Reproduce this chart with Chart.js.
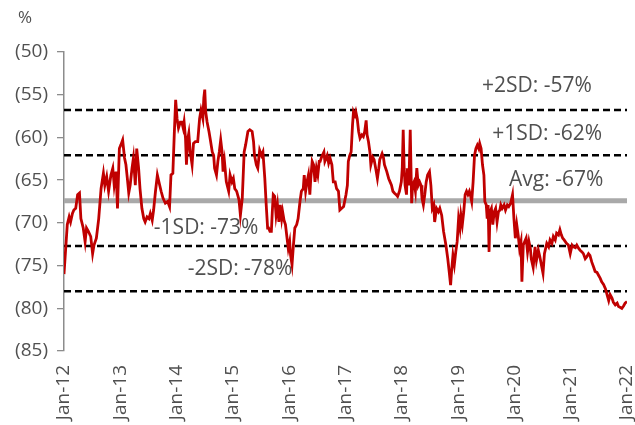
<!DOCTYPE html>
<html>
<head>
<meta charset="utf-8">
<script src="https://cdn.jsdelivr.net/npm/chart.js@4/dist/chart.umd.min.js"></script>
<style>
  html, body { margin: 0; padding: 0; background: #fff; }
  #wrap { position: relative; width: 635px; height: 425px; }
</style>
</head>
<body>
<div id="wrap"><canvas id="c" width="635" height="425"></canvas></div>
<script>
// X-axis tick labels, one per January
const xTickLabels = ['Jan-12','Jan-13','Jan-14','Jan-15','Jan-16','Jan-17','Jan-18','Jan-19','Jan-20','Jan-21','Jan-22'];

// Y-axis tick values (%)
const yTickValues = [-85, -80, -75, -70, -65, -60, -55, -50];

// Months elapsed since Jan-2012
const monthIndex = [
  0.0, 0.7, 1.1, 1.4, 1.8, 2.1, 2.5, 2.9, 3.3, 3.6, 4.1, 4.5, 4.8, 5.2, 5.7, 6.1, 6.4, 6.9, 7.4, 7.9,
  8.4, 8.7, 9.1, 9.5, 10.0, 10.4, 10.7, 11.1, 11.4, 11.8, 12.1, 12.5, 12.9, 13.2, 13.5, 13.8, 14.1, 14.5, 14.8, 15.2,
  15.5, 15.9, 16.2, 16.6, 17.0, 17.3, 17.7, 18.1, 18.4, 18.8, 19.1, 19.5, 19.9, 20.4, 20.7, 21.1, 21.6, 22.1, 22.5, 22.8,
  23.2, 23.5, 23.8, 24.1, 24.4, 24.8, 25.1, 25.4, 25.6, 25.9, 26.1, 26.4, 26.6, 26.9, 27.3, 27.6, 28.0, 28.5, 28.9, 29.2,
  29.6, 29.8, 30.0, 30.2, 30.5, 30.9, 31.2, 31.6, 31.9, 32.1, 32.5, 32.8, 33.1, 33.4, 33.7, 33.9, 34.2, 34.6, 35.1, 35.4,
  35.8, 36.1, 36.4, 36.8, 37.3, 37.6, 38.0, 38.4, 38.7, 39.2, 39.6, 40.1, 40.4, 40.6, 41.0, 41.3, 41.7, 42.1, 42.4, 42.8,
  43.1, 43.4, 43.6, 43.9, 44.2, 44.4, 44.6, 44.9, 45.2, 45.5, 45.8, 46.1, 46.4, 46.6, 46.9, 47.2, 47.5, 47.8, 48.1, 48.3,
  48.6, 48.9, 49.2, 49.6, 49.9, 50.3, 50.6, 51.0, 51.2, 51.5, 51.8, 52.1, 52.4, 52.6, 52.9, 53.2, 53.5, 53.8, 54.1, 54.4,
  54.6, 54.9, 55.4, 55.6, 56.1, 56.4, 56.7, 57.1, 57.4, 57.8, 58.1, 58.5, 58.8, 59.2, 59.6, 60.1, 60.4, 60.6, 60.9, 61.2,
  61.5, 61.7, 62.0, 62.2, 62.5, 62.8, 63.1, 63.5, 63.8, 64.1, 64.4, 64.6, 64.9, 65.2, 65.4, 65.8, 66.1, 66.5, 66.8, 67.1,
  67.3, 67.8, 68.1, 68.3, 68.8, 69.2, 69.5, 69.8, 70.1, 70.4, 70.8, 71.1, 71.5, 71.9, 72.1, 72.3, 72.5, 72.7, 73.0, 73.2,
  73.5, 73.8, 74.1, 74.3, 74.6, 74.9, 75.2, 75.5, 75.8, 76.1, 76.3, 76.6, 76.9, 77.2, 77.5, 77.9, 78.2, 78.5, 78.8, 79.0,
  79.4, 79.8, 80.1, 80.5, 80.9, 81.4, 81.8, 82.1, 82.4, 82.6, 82.9, 83.2, 83.5, 83.8, 84.1, 84.4, 84.6, 84.9, 85.2, 85.5,
  85.8, 86.1, 86.4, 86.6, 86.9, 87.2, 87.5, 87.8, 88.1, 88.4, 88.6, 88.9, 89.2, 89.5, 89.7, 90.0, 90.2, 90.4, 90.6, 90.8,
  91.1, 91.4, 91.7, 92.0, 92.3, 92.6, 92.9, 93.1, 93.4, 93.8, 94.1, 94.5, 94.8, 95.2, 95.6, 95.9, 96.2, 96.5, 96.8, 97.1,
  97.4, 97.6, 97.9, 98.2, 98.5, 98.8, 99.1, 99.4, 99.6, 100.0, 100.4, 100.7, 101.1, 101.4, 102.1, 102.4, 102.9, 103.3, 103.6, 104.0,
  104.3, 104.7, 105.0, 105.4, 105.7, 106.0, 106.3, 106.6, 107.1, 107.5, 107.9, 108.3, 108.6, 109.0, 109.3, 109.7, 110.0, 110.4, 110.7, 111.1,
  111.4, 111.8, 112.1, 112.5, 112.9, 113.2, 113.6, 113.9, 114.3, 114.6, 115.0, 115.4, 115.7, 116.1, 116.4, 116.8, 117.1, 117.5, 117.9, 118.2,
  118.6, 118.9, 119.3, 119.6, 120.0
];

// Discount (%) at each point of monthIndex
const discountPct = [
  -76.0, -70.2, -69.3, -69.9, -68.9, -68.5, -68.3, -66.7, -66.5, -69.5, -70.6, -72.2, -70.6, -71.0, -71.6, -73.6, -72.6, -71.8, -69.5, -66.0,
  -64.2, -65.6, -64.6, -66.3, -64.4, -63.6, -65.6, -64.0, -68.3, -61.3, -60.9, -60.3, -62.4, -63.2, -64.8, -66.5, -65.6, -63.6, -62.4, -65.6,
  -61.3, -63.6, -66.0, -68.3, -69.5, -69.9, -69.3, -69.5, -68.9, -69.7, -68.5, -66.3, -64.4, -65.6, -66.3, -67.1, -67.7, -67.5, -68.1, -64.4,
  -64.2, -59.7, -55.6, -57.8, -58.9, -58.2, -58.2, -58.9, -58.2, -60.1, -63.2, -60.1, -59.5, -61.7, -63.2, -60.7, -60.5, -60.5, -57.8, -56.8,
  -57.8, -55.4, -54.4, -57.0, -58.2, -59.3, -60.3, -61.7, -62.1, -63.6, -64.4, -62.8, -61.7, -60.3, -61.7, -64.0, -62.8, -65.2, -66.3, -64.4,
  -65.2, -64.8, -66.0, -66.3, -67.3, -69.1, -67.1, -61.7, -60.9, -59.3, -59.1, -59.3, -60.5, -62.1, -63.2, -63.6, -61.5, -62.1, -61.7, -64.8,
  -67.9, -70.6, -70.6, -71.0, -71.0, -68.7, -66.7, -66.9, -69.1, -67.9, -69.9, -67.9, -69.5, -68.7, -69.7, -70.2, -71.6, -73.0, -72.2, -73.8,
  -74.9, -72.6, -70.6, -70.2, -69.5, -67.5, -66.3, -66.0, -64.4, -66.3, -65.2, -64.4, -66.7, -64.8, -62.8, -63.2, -65.2, -63.6, -64.4, -62.8,
  -62.8, -62.3, -61.7, -62.8, -62.1, -63.0, -62.4, -63.2, -65.2, -65.2, -66.0, -66.3, -68.5, -68.3, -68.1, -66.7, -65.6, -62.8, -62.1, -61.7,
  -58.5, -57.0, -57.4, -57.0, -57.8, -59.3, -60.1, -59.7, -59.9, -59.3, -58.0, -59.7, -60.5, -61.7, -63.2, -62.3, -62.6, -63.8, -64.8, -63.6,
  -62.6, -61.9, -62.4, -63.2, -64.0, -64.8, -65.2, -65.6, -66.3, -66.5, -66.7, -66.9, -66.3, -65.2, -63.6, -59.1, -63.6, -65.6, -66.7, -63.6,
  -65.6, -59.1, -67.7, -65.6, -65.2, -66.3, -63.6, -65.6, -65.2, -65.6, -67.1, -67.9, -66.7, -65.2, -64.4, -64.0, -65.6, -68.3, -67.9, -69.9,
  -68.3, -68.7, -68.3, -69.1, -71.0, -72.6, -74.2, -75.7, -77.3, -75.7, -73.8, -74.9, -73.4, -72.2, -69.5, -70.6, -69.1, -70.2, -68.7, -66.7,
  -66.3, -66.7, -66.3, -66.7, -67.5, -65.2, -62.1, -61.3, -60.9, -61.3, -60.7, -61.3, -63.2, -64.4, -67.5, -67.9, -69.5, -67.9, -73.4, -68.7,
  -68.3, -70.2, -68.7, -68.3, -69.9, -68.7, -68.5, -67.9, -68.3, -67.9, -68.5, -67.9, -68.1, -67.7, -66.7, -69.5, -71.8, -70.2, -71.4, -73.0,
  -72.2, -76.9, -72.6, -72.2, -71.8, -73.4, -72.2, -73.0, -74.2, -75.2, -72.8, -74.4, -73.2, -73.9, -75.9, -73.6, -72.4, -72.8, -72.0, -72.4,
  -71.6, -72.0, -71.2, -71.4, -70.8, -71.4, -71.8, -72.0, -72.4, -72.6, -73.6, -72.6, -72.8, -72.9, -72.6, -73.0, -73.2, -73.4, -73.6, -74.2,
  -74.0, -73.6, -73.8, -74.6, -75.2, -75.7, -75.8, -76.1, -76.5, -76.9, -77.2, -77.7, -78.3, -79.1, -78.4, -78.8, -79.3, -79.6, -79.4, -79.8,
  -79.9, -80.0, -79.7, -79.4, -79.2
];

// Long-run average and standard-deviation bands (%)
const bandNames = ['+2SD', '+1SD', 'Avg', '-1SD', '-2SD'];
const bandLevels = [-56.8, -62.1, -67.4, -72.7, -78.0];

const SPAN_END = (xTickLabels.length - 1) * 12;

// Where each band caption sits: month along the x-axis, pixels above its line
const captionPlacement = [
  { month: 100.8, lift: 24 },
  { month: 103.0, lift: 21 },
  { month: 104.9, lift: 21 },
  { month: 30.3,  lift: 18 },
  { month: 37.5,  lift: 22 }
];

const TEXT_COLOR = '#505050';
const FONT_FAMILY = "'Open Sans', 'Noto Sans', sans-serif";

const bandCaptions = {
  id: 'bandCaptions',
  afterDatasetsDraw(chart) {
    const { ctx, scales: { x, y } } = chart;
    ctx.save();
    ctx.fillStyle = TEXT_COLOR;
    ctx.font = '21px ' + FONT_FAMILY;
    ctx.textAlign = 'center';
    ctx.textBaseline = 'middle';
    bandLevels.forEach((lvl, i) => {
      const p = captionPlacement[i];
      const txt = bandNames[i] + ': ' + Math.round(lvl) + '%';
      ctx.fillText(txt, x.getPixelForValue(p.month), y.getPixelForValue(lvl) - p.lift);
    });
    ctx.font = '17px ' + FONT_FAMILY;
    ctx.fillText('%', 25, 18);
    ctx.restore();
  }
};

const lineData = monthIndex.map((m, i) => ({ x: m, y: discountPct[i] }));

const bandSets = bandLevels.map((lvl, i) => {
  const isAvg = bandNames[i] === 'Avg';
  return {
    label: bandNames[i],
    data: [{ x: 0, y: lvl }, { x: SPAN_END, y: lvl }],
    borderColor: isAvg ? '#a9a9a9' : '#000000',
    borderWidth: isAvg ? 5 : 2.5,
    borderDash: isAvg ? [] : [7, 4],
    pointRadius: 0,
    order: 2
  };
});

new Chart(document.getElementById('c'), {
  type: 'line',
  data: {
    datasets: [
      {
        label: 'Discount',
        data: lineData,
        borderColor: '#c00000',
        borderWidth: 2.8,
        pointRadius: 0,
        tension: 0,
        order: 1
      },
      ...bandSets
    ]
  },
  options: {
    responsive: false,
    animation: false,
    events: [],
    layout: { padding: { top: 52, right: 8, bottom: 0, left: 0 } },
    plugins: { legend: { display: false }, tooltip: { enabled: false } },
    scales: {
      x: {
        type: 'linear',
        min: 0,
        max: SPAN_END,
        afterBuildTicks: (s) => { s.ticks = xTickLabels.map((_, i) => ({ value: i * 12 })); },
        afterFit: (s) => { s.height = 74; s.paddingLeft = 0; s.paddingRight = 0; },
        grid: { display: false },
        border: { display: false },
        ticks: {
          autoSkip: false,
          maxRotation: 90,
          minRotation: 90,
          padding: 6,
          color: TEXT_COLOR,
          font: { family: FONT_FAMILY, size: 19 },
          callback: (v) => xTickLabels[Math.round(v / 12)]
        }
      },
      y: {
        min: yTickValues[0],
        max: yTickValues[yTickValues.length - 1],
        afterBuildTicks: (s) => { s.ticks = yTickValues.map(v => ({ value: v })); },
        afterFit: (s) => { s.width = 64; },
        grid: {
          drawOnChartArea: false,
          drawTicks: true,
          tickLength: 7,
          color: '#8c8c8c',
          lineWidth: 1.3
        },
        border: { display: true, color: '#8c8c8c', width: 1.5 },
        ticks: {
          padding: 9,
          color: TEXT_COLOR,
          font: { family: FONT_FAMILY, size: 19 },
          callback: (v) => '(' + Math.abs(v) + ')'
        }
      }
    }
  },
  plugins: [bandCaptions]
});
</script>
</body>
</html>
